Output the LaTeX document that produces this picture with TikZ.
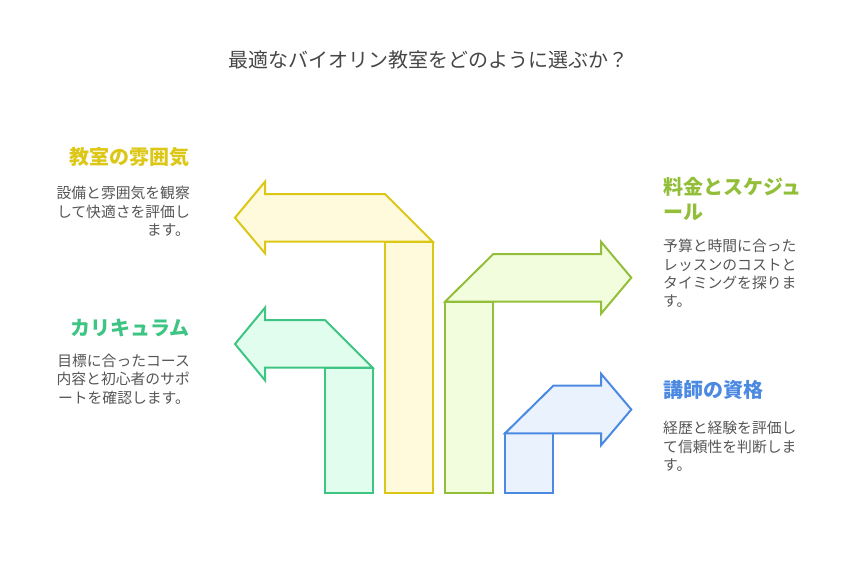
\documentclass[tikz,border=0pt]{standalone}
\usepackage{fontspec}
\setmainfont{Noto Sans CJK JP}
\usepackage{tikz}

\definecolor{yellowline}{RGB}{221,199,22}
\definecolor{yellowfill}{RGB}{255,250,220}
\definecolor{greenline}{RGB}{62,196,131}
\definecolor{greenfill}{RGB}{224,253,238}
\definecolor{limeline}{RGB}{146,190,58}
\definecolor{limefill}{RGB}{242,253,222}
\definecolor{blueline}{RGB}{76,138,226}
\definecolor{bluefill}{RGB}{234,242,254}
\definecolor{bodygray}{RGB}{85,85,85}
\definecolor{titlegray}{RGB}{70,70,70}

\begin{document}
\begin{tikzpicture}[x=1pt, y=-1pt,
  turnarrow/.style={line width=2pt, line join=miter},
  yellowarrow/.style={turnarrow, draw=yellowline, fill=yellowfill},
  greenarrow/.style={turnarrow, draw=greenline, fill=greenfill},
  limearrow/.style={turnarrow, draw=limeline, fill=limefill},
  bluearrow/.style={turnarrow, draw=blueline, fill=bluefill},
  heading/.style={font=\fontsize{20}{25}\selectfont\bfseries, inner sep=0pt},
  body/.style={font=\fontsize{14.8}{18.4}\selectfont, text=bodygray, inner sep=0pt}]

\useasboundingbox (0,0) rectangle (854,566);

\node[anchor=base, font=\fontsize{20}{24}\selectfont, text=titlegray] (title) at (428,67.4) {最適なバイオリン教室をどのように選ぶか？};

% left arrows
\draw[yellowarrow] (385,241.7) rectangle (432.7,493.3);
\draw[yellowarrow] (235,217.7) -- (265,181.7) -- (265,194) -- (385,194) -- (432.7,241.7) -- (265,241.7) -- (265,253.3) -- cycle;

\draw[greenarrow] (325,367.7) rectangle (372.7,493.3);
\draw[greenarrow] (235,344) -- (265,307.7) -- (265,320) -- (325,320) -- (372.7,367.7) -- (265,367.7) -- (265,380.3) -- cycle;

% right arrows
\draw[limearrow] (445,301.7) rectangle (493.3,493.3);
\draw[limearrow] (445,301.7) -- (493.3,254) -- (601,254) -- (601,241.7) -- (631.3,277.7) -- (601,313.7) -- (601,301.7) -- cycle;

\draw[bluearrow] (505,433.3) rectangle (553.3,493.3);
\draw[bluearrow] (505,433.3) -- (553.3,385.7) -- (601,385.7) -- (601,373.7) -- (631.3,409.5) -- (601,445.3) -- (601,433.3) -- cycle;

% labels (base = last line of the node)
\node[heading, text=yellowline, anchor=base east] (atmoshead) at (190,164.6) {教室の雰囲気};
\node[body, align=right, anchor=base east] (atmosbody) at (190,235.7) {設備と雰囲気を観察\\して快適さを評価し\\ます。};

\node[heading, text=greenline, anchor=base east] (coursehead) at (190,335.6) {カリキュラム};
\node[body, align=right, anchor=base east] (coursebody) at (190,403.1) {目標に合ったコース\\内容と初心者のサポ\\ートを確認します。};

\node[heading, text=limeline, anchor=base west, align=left] (feehead) at (663,219.3) {料金とスケジュ\\ール};
\node[body, align=left, anchor=base west] (feebody) at (663,306.8) {予算と時間に合った\\レッスンのコストと\\タイミングを探りま\\す。};

\node[heading, text=blueline, anchor=base west] (teacherhead) at (663,397.6) {講師の資格};
\node[body, align=left, anchor=base west] (teacherbody) at (663,470.7) {経歴と経験を評価し\\て信頼性を判断しま\\す。};
\end{tikzpicture}
\end{document}
